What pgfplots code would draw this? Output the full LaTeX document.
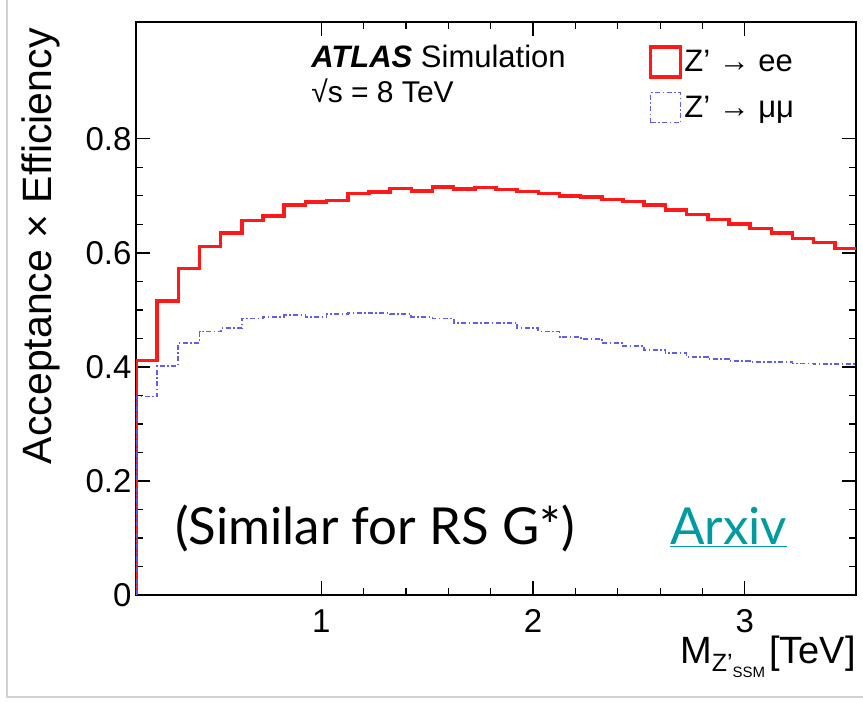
\documentclass[border=0pt]{standalone}
\usepackage{pgfplots}
\pgfplotsset{compat=1.18}
\usepackage{fontspec}
\setmainfont{Liberation Sans}
\newfontfamily\gill{Lato}
\definecolor{zred}{RGB}{255,25,25}
\definecolor{zblue}{RGB}{95,95,235}
\definecolor{arx}{RGB}{0,155,160}
\pgfplotstableread{
x y
0.125 0
0.125 0.411
0.225 0.516
0.325 0.573
0.425 0.611
0.525 0.635
0.625 0.657
0.725 0.665
0.825 0.684
0.925 0.689
1.025 0.692
1.125 0.704
1.225 0.707
1.325 0.713
1.425 0.709
1.525 0.716
1.625 0.712
1.725 0.715
1.825 0.711
1.925 0.708
2.025 0.704
2.125 0.700
2.225 0.698
2.325 0.694
2.425 0.690
2.525 0.684
2.625 0.675
2.725 0.667
2.825 0.659
2.925 0.651
3.025 0.643
3.125 0.635
3.225 0.625
3.325 0.618
3.425 0.608
3.525 0.608
}\eedata
\pgfplotstableread{
x y
0.125 0
0.125 0.348
0.225 0.402
0.325 0.442
0.425 0.462
0.525 0.468
0.625 0.485
0.725 0.488
0.825 0.491
0.925 0.488
1.025 0.493
1.125 0.494
1.225 0.495
1.325 0.493
1.425 0.488
1.525 0.485
1.625 0.477
1.725 0.477
1.825 0.477
1.925 0.468
2.025 0.462
2.125 0.453
2.225 0.449
2.325 0.442
2.425 0.437
2.525 0.430
2.625 0.424
2.725 0.418
2.825 0.414
2.925 0.411
3.025 0.409
3.125 0.408
3.225 0.406
3.325 0.405
3.425 0.405
3.525 0.405
}\mumudata
\begin{document}
\begin{tikzpicture}
\path[use as bounding box] (0,0) rectangle (863pt,705pt);
\draw[gray!35, line width=1.5pt] (7pt,705pt) -- (7pt,8pt) -- (863pt,8pt);
\begin{axis}[
 at={(136pt,110pt)}, anchor=south west, scale only axis,
 width=720pt, height=573pt,
 xmin=0.125, xmax=3.525, ymin=0, ymax=1.005,
 xtick={1,2,3}, xticklabels={1,2,3},
 ytick={0,0.2,0.4,0.6,0.8}, yticklabels={0,0.2,0.4,0.6,0.8},
 minor x tick num=4, minor y tick num=3,
 tick align=inside, major tick length=14pt, minor tick length=7pt,
 axis line style={line width=2.5pt},
 every tick/.style={black, line width=1.2pt},
 tick label style={font=\fontsize{33}{33}\selectfont},
 /pgf/number format/assume math mode=true,
 xticklabel style={yshift=-11pt},
 yticklabel style={xshift=-1pt},
 ylabel={Acceptance × Efficiency},
 ylabel style={font=\fontsize{41}{41}\selectfont, at={(axis description cs:-0.132,0.995)}, anchor=east},
 xlabel={M\raisebox{-8pt}{\fontsize{25}{25}\selectfont Z'\raisebox{-6pt}{\fontsize{15}{15}\selectfont SSM}}\hspace{4pt}[TeV]},
 xlabel style={font=\fontsize{38}{38}\selectfont, at={(axis description cs:1,-0.072)}, anchor=north east, inner sep=0pt},
 legend style={draw=none, fill=none, at={(axis description cs:0.712,0.96)}, anchor=north west,
   font=\fontsize{31}{31}\selectfont, inner sep=0pt, row sep=13pt,
   /tikz/every even column/.append style={column sep=4pt}},
 legend cell align=left,
 legend image code/.code={\draw[#1] (0pt,-15pt) rectangle (30pt,15pt);},
]
\addplot[const plot mark left, zred, line width=3.5pt] table {\eedata};
\addlegendentry{Z' → ee}
\addplot[const plot mark left, zblue, line width=1.8pt, dash pattern=on 5pt off 2.5pt on 1.5pt off 2.5pt] table {\mumudata};
\addlegendentry{Z' → μμ}
\node[anchor=base west, font=\fontsize{31}{31}\selectfont] at (axis description cs:0.2386,0.92) {\textbf{\textit{ATLAS}} Simulation};
\node[anchor=base west, font=\fontsize{30}{30}\selectfont] at (axis description cs:0.2386,0.859) {√s = 8 TeV};
\end{axis}
\node[anchor=base west, font=\gill\fontsize{51}{51}\selectfont, inner sep=0pt] at (175pt,160pt) {(Similar for RS G*)};
\node[anchor=base west, font=\gill\fontsize{51}{51}\selectfont, inner sep=0pt, text=arx] at (670pt,160pt) {\underline{Arxiv}};
\end{tikzpicture}
\end{document}
